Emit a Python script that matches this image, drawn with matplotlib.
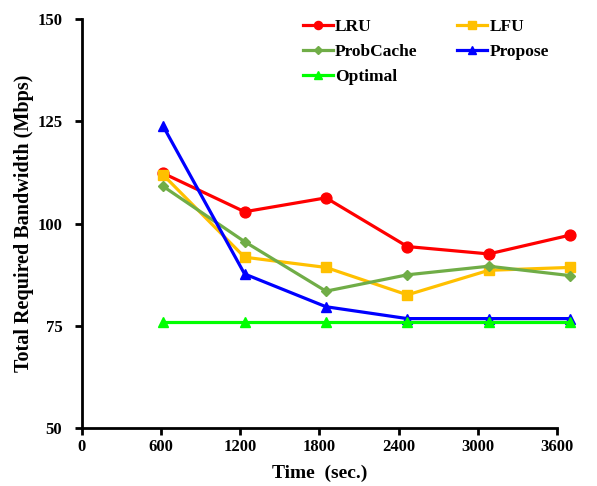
import matplotlib.pyplot as plt

plt.rcParams['font.family'] = ['Liberation Serif', 'DejaVu Serif']
plt.rcParams['font.weight'] = 'bold'

time_sec = [600, 1200, 1800, 2400, 3000, 3600]
lru = [112.3, 102.9, 106.3, 94.4, 92.6, 97.2]
lfu = [111.9, 91.8, 89.3, 82.6, 88.6, 89.3]
probcache = [109.1, 95.6, 83.5, 87.5, 89.6, 87.3]
propose = [123.8, 87.7, 79.7, 76.8, 76.8, 76.8]
optimal = [76.0, 76.0, 76.0, 76.0, 76.0, 76.0]

x_ticks = [0, 600, 1200, 1800, 2400, 3000, 3600]
y_ticks = [50, 75, 100, 125, 150]

fig = plt.figure(figsize=(5.97, 4.86), dpi=100)
ax = fig.add_axes([0.137, 0.1187, 0.796, 0.8423])

# data sits on a hidden twin axis (the original chart's points don't line up with its ticks)
ax2 = ax.twiny()
ax2.set_xlim(0, 3503)
ax2.axis('off')

series = [
    ('LRU', lru, '#FF0000', 'o', 7.8),
    ('LFU', lfu, '#FFC000', 's', 7.2),
    ('ProbCache', probcache, '#70AD47', 'D', 5.2),
    ('Propose', propose, '#0000FF', '^', 7.8),
    ('Optimal', optimal, '#00FF00', '^', 7.8),
]
handles = {}
for name, vals, col, mk, ms in series:
    h, = ax2.plot(time_sec, vals, color=col, marker=mk, markersize=ms,
                  linewidth=2.3, label=name, clip_on=False)
    handles[name] = h

ax.set_xlim(0, 3600)
ax.set_ylim(50, 150)
ax.set_xticks(x_ticks)
ax.set_yticks(y_ticks)
ax.tick_params(axis='both', labelsize=12, width=2, length=5, direction='out')
ax.tick_params(axis='y', pad=9)
ax.tick_params(axis='x', pad=3)
for s in ['top', 'right']:
    ax.spines[s].set_visible(False)
for s in ['left', 'bottom']:
    ax.spines[s].set_linewidth(2)
ax.set_xlabel('Time  (sec.)', fontsize=14, fontweight='bold', labelpad=7)
ax.set_ylabel('Total Required Bandwidth (Mbps)', fontsize=14.5, fontweight='bold', labelpad=2)

order = ['LRU', 'ProbCache', 'Optimal', 'LFU', 'Propose']
fig.legend([handles[n] for n in order], order, ncol=2, frameon=False,
           loc='upper left', bbox_to_anchor=(0.5075, 0.962), fontsize=12.5,
           handlelength=1.72, handletextpad=0.12, columnspacing=2.3,
           labelspacing=0.52, borderpad=0, borderaxespad=0, markerscale=0.75)

fig.savefig('out.png', dpi=100)
